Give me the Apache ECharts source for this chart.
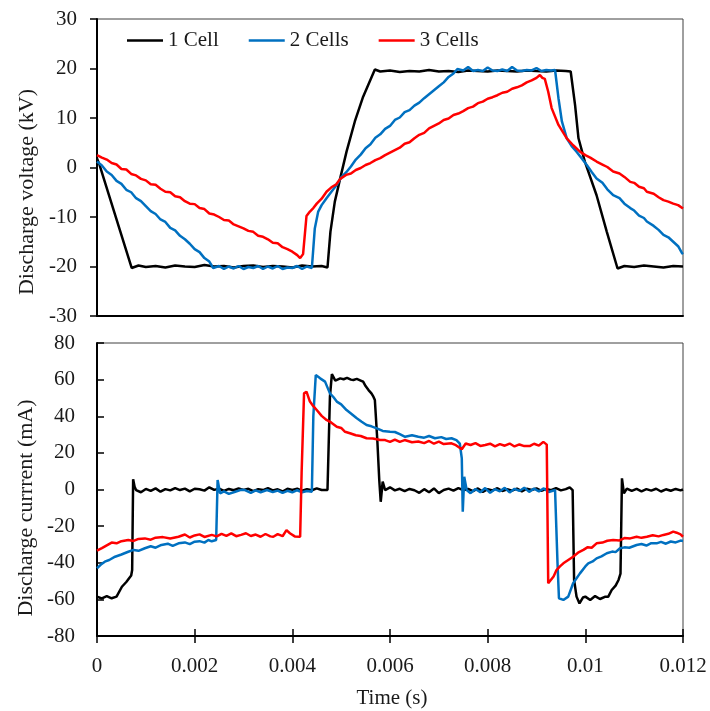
<!DOCTYPE html>
<html>
<head>
<meta charset="utf-8">
<script src="https://cdn.jsdelivr.net/npm/echarts@6/dist/echarts.min.js"></script>
<style>
  html, body { margin: 0; padding: 0; background: #ffffff; }
  #chart { width: 710px; height: 711px; }
</style>
</head>
<body>
<div id="chart"></div>
<script>
// Time values are in milliseconds, converted to seconds when the series are built.
const seriesNames = ['1 Cell', '2 Cells', '3 Cells'];
const timeTicks = [0, 0.002, 0.004, 0.006, 0.008, 0.01, 0.012];
const voltageTicks = [-30, -20, -10, 0, 10, 20, 30];
const currentTicks = [-80, -60, -40, -20, 0, 20, 40, 60, 80];

// Discharge voltage (kV)
const voltage1Cell = [
  [0,1.8],[0.05,0.6],[0.71,-20.3],[0.85,-19.8],[1.0,-20.1],[1.2,-19.9],[1.4,-20.2],[1.6,-19.8],[1.8,-20.0],
  [2.0,-20.1],[2.2,-19.7],[2.4,-20.0],[2.6,-19.9],[2.8,-20.2],[3.0,-19.9],[3.2,-19.8],[3.4,-20.1],[3.6,-19.9],
  [3.8,-20.0],[4.0,-20.2],[4.2,-19.8],[4.4,-20.0],[4.6,-19.9],[4.72,-20.2],[4.78,-13.0],[4.87,-6.9],[4.98,-2.2],
  [5.11,3.2],[5.28,9.3],[5.45,14.3],[5.69,19.8],[5.8,19.4],[6.0,19.6],[6.2,19.3],[6.4,19.5],[6.6,19.4],[6.8,19.7],
  [7.0,19.4],[7.2,19.5],[7.4,19.3],[7.6,19.6],[7.8,19.5],[8.0,19.4],[8.2,19.6],[8.4,19.5],[8.6,19.4],[8.8,19.6],
  [9.0,19.5],[9.2,19.4],[9.4,19.6],[9.6,19.5],[9.70,19.4],[9.79,12.6],[9.86,5.9],[9.99,1.2],[10.23,-5.6],
  [10.44,-13.0],[10.66,-20.4],[10.8,-19.9],[11.0,-20.1],[11.2,-19.8],[11.4,-20.0],[11.6,-20.2],[11.8,-19.9],[12.0,-20.0]
];
const voltage2Cells = [
  [0,1.2],[0.1,0.4],[0.2,-0.8],[0.3,-1.5],[0.4,-2.7],[0.5,-3.3],[0.6,-4.5],[0.7,-5.0],[0.8,-6.2],[0.9,-6.8],
  [1.0,-7.8],[1.1,-8.8],[1.2,-9.4],[1.3,-10.5],[1.4,-11.0],[1.5,-12.2],[1.6,-12.7],[1.7,-13.8],[1.8,-14.5],
  [1.9,-15.4],[2.0,-16.5],[2.1,-17.1],[2.2,-18.3],[2.3,-19.0],[2.38,-20.3],[2.5,-19.9],[2.6,-20.5],[2.7,-20.0],
  [2.8,-20.4],[2.9,-19.9],[3.0,-20.5],[3.1,-20.1],[3.2,-20.3],[3.3,-19.9],[3.4,-20.5],[3.5,-20.0],[3.6,-20.4],
  [3.7,-19.9],[3.8,-20.5],[3.9,-20.2],[4.0,-20.3],[4.1,-19.9],[4.2,-20.5],[4.3,-20.0],[4.40,-20.3],[4.46,-12.3],
  [4.53,-8.9],[4.6,-7.6],[4.70,-6.2],[4.8,-4.9],[4.91,-3.5],[5.0,-2.0],[5.1,-1.0],[5.2,0.2],[5.3,1.6],[5.4,2.6],
  [5.5,3.9],[5.6,4.7],[5.7,6.0],[5.8,6.7],[5.9,7.8],[6.0,8.4],[6.1,9.6],[6.2,10.1],[6.3,11.2],[6.4,11.6],[6.5,12.5],
  [6.6,13.1],[6.7,14.0],[6.8,14.8],[6.9,15.6],[7.0,16.4],[7.1,17.2],[7.2,18.3],[7.3,19.0],[7.38,19.9],[7.5,19.6],
  [7.6,20.3],[7.7,19.5],[7.8,19.7],[7.9,19.5],[8.0,20.2],[8.1,19.6],[8.2,19.5],[8.3,19.8],[8.4,19.5],[8.5,20.3],
  [8.6,19.6],[8.7,19.5],[8.8,19.7],[8.9,19.6],[9.0,20.1],[9.1,19.5],[9.2,19.7],[9.3,19.6],[9.38,19.7],[9.45,14.0],
  [9.52,9.3],[9.62,5.9],[9.72,4.3],[9.82,3.2],[9.92,1.9],[10.03,0.5],[10.13,-0.9],[10.23,-2.2],[10.35,-3.1],
  [10.45,-4.4],[10.57,-5.6],[10.7,-6.2],[10.8,-7.3],[10.92,-8.2],[11.0,-8.7],[11.1,-9.7],[11.2,-10.2],[11.26,-10.9],
  [11.4,-11.8],[11.5,-12.6],[11.6,-13.6],[11.7,-14.1],[11.8,-15.0],[11.9,-15.9],[11.98,-17.3],[12.0,-17.5]
];
const voltage3Cells = [
  [0,2.5],[0.1,2.0],[0.2,1.6],[0.3,0.9],[0.4,0.6],[0.5,-0.3],[0.6,-0.4],[0.7,-1.3],[0.8,-1.6],[0.9,-2.3],
  [1.0,-2.6],[1.1,-3.4],[1.2,-3.5],[1.3,-4.3],[1.4,-4.9],[1.5,-5.0],[1.6,-5.8],[1.7,-6.0],[1.8,-6.8],[1.9,-7.3],
  [2.0,-7.4],[2.1,-8.2],[2.2,-8.4],[2.3,-9.3],[2.4,-9.5],[2.5,-10.0],[2.6,-10.6],[2.7,-10.7],[2.8,-11.5],
  [2.9,-11.9],[3.0,-12.3],[3.1,-12.8],[3.2,-13.0],[3.3,-13.8],[3.4,-14.0],[3.5,-14.5],[3.6,-15.2],[3.7,-15.3],
  [3.8,-16.1],[3.9,-16.5],[4.0,-17.0],[4.1,-17.7],[4.16,-18.3],[4.19,-18.5],[4.22,-17.5],[4.29,-9.8],[4.36,-8.9],
  [4.43,-8.2],[4.50,-7.3],[4.6,-6.3],[4.70,-4.9],[4.8,-4.0],[4.9,-3.4],[4.98,-2.3],[5.1,-1.5],[5.2,-1.2],[5.3,-0.5],
  [5.4,-0.1],[5.5,0.5],[5.6,0.9],[5.7,1.5],[5.8,1.9],[5.9,2.5],[6.0,3.0],[6.1,3.5],[6.2,4.0],[6.3,4.8],[6.4,5.1],
  [6.5,5.9],[6.6,6.6],[6.7,7.0],[6.8,7.9],[6.9,8.4],[7.0,8.9],[7.1,9.6],[7.2,9.9],[7.3,10.6],[7.4,10.9],[7.5,11.4],
  [7.6,12.0],[7.7,12.3],[7.8,13.0],[7.9,13.3],[8.0,13.9],[8.1,14.2],[8.2,14.6],[8.3,15.1],[8.4,15.3],[8.5,15.9],
  [8.6,16.2],[8.7,16.6],[8.8,17.2],[8.9,17.6],[9.0,18.1],[9.07,18.7],[9.12,18.1],[9.17,17.9],[9.24,15.3],
  [9.31,12.0],[9.45,8.6],[9.62,5.9],[9.75,4.5],[9.89,3.2],[10.0,2.5],[10.1,2.0],[10.23,1.2],[10.35,0.6],
  [10.45,0.1],[10.57,-0.8],[10.7,-1.2],[10.8,-1.9],[10.92,-2.9],[11.0,-3.1],[11.1,-3.9],[11.2,-4.2],[11.26,-4.9],
  [11.4,-5.3],[11.5,-6.0],[11.6,-6.6],[11.7,-6.9],[11.8,-7.3],[11.9,-7.6],[12.0,-8.3]
];

// Discharge current (mA)
const current1Cell = [
  [0,-58.5],[0.1,-59.5],[0.2,-58.2],[0.3,-59.4],[0.4,-58.5],[0.51,-53.1],[0.6,-50.5],[0.7,-47.0],[0.72,-44.0],
  [0.74,5.6],[0.77,1.5],[0.8,-0.3],[0.9,-1.5],[1.0,0.3],[1.1,-0.8],[1.2,0.6],[1.3,-1.2],[1.4,0.2],[1.5,-0.5],
  [1.6,0.8],[1.7,-0.3],[1.8,0.5],[1.9,-1.0],[2.0,0.4],[2.1,0.1],[2.2,-0.6],[2.3,1.2],[2.4,-0.2],[2.5,0.5],
  [2.6,-0.8],[2.7,0.3],[2.8,-0.4],[2.9,0.6],[3.0,-0.2],[3.1,0.4],[3.2,-0.9],[3.3,0.2],[3.4,-0.3],[3.5,0.7],
  [3.6,-0.5],[3.7,0.1],[3.8,-1.1],[3.9,0.4],[4.0,-0.2],[4.1,0.5],[4.2,-0.7],[4.3,0.2],[4.4,-0.4],[4.5,0.6],
  [4.6,-0.3],[4.72,-0.3],[4.77,50.7],[4.81,63.0],[4.84,62.5],[4.88,59.5],[4.91,58.9],[4.98,60.7],[5.05,60.2],
  [5.12,61.0],[5.2,60.0],[5.25,59.8],[5.32,60.4],[5.4,59.5],[5.45,58.9],[5.5,56.5],[5.56,54.3],[5.62,52.5],
  [5.66,50.7],[5.69,48.9],[5.74,27.0],[5.78,5.2],[5.81,-6.7],[5.85,4.3],[5.9,-0.3],[6.0,1.2],[6.1,-0.5],
  [6.2,0.4],[6.3,-0.9],[6.4,0.3],[6.5,-0.4],[6.6,-1.8],[6.7,0.2],[6.8,-1.5],[6.9,0.6],[7.0,-2.0],[7.1,-0.3],
  [7.2,0.5],[7.3,-0.6],[7.4,0.8],[7.5,-0.4],[7.6,0.3],[7.7,-0.9],[7.8,0.6],[7.9,-1.3],[8.0,0.2],[8.1,-0.5],
  [8.2,0.7],[8.3,-0.8],[8.4,0.1],[8.5,-0.6],[8.6,0.5],[8.7,-1.0],[8.8,0.4],[8.9,-0.3],[9.0,0.6],[9.1,-0.7],
  [9.2,0.3],[9.3,-0.4],[9.4,0.8],[9.5,-0.5],[9.6,0.2],[9.68,1.2],[9.74,-0.3],[9.77,-49.4],[9.82,-58.5],
  [9.88,-62.2],[9.95,-59.0],[10.0,-58.5],[10.1,-60.3],[10.2,-58.2],[10.3,-59.8],[10.4,-58.6],[10.47,-58.5],
  [10.54,-54.9],[10.62,-52.5],[10.68,-49.4],[10.72,-46.0],[10.75,6.1],[10.79,-2.1],[10.85,0.5],[10.95,-0.8],
  [11.05,0.3],[11.15,-1.0],[11.25,0.2],[11.35,-0.6],[11.45,0.4],[11.55,-1.1],[11.65,0.1],[11.75,-0.7],
  [11.85,0.3],[11.95,-0.5],[12.0,0.0]
];
const current2Cells = [
  [0,-43.0],[0.08,-41.0],[0.16,-39.4],[0.25,-38.5],[0.37,-36.7],[0.5,-35.5],[0.64,-34.0],[0.75,-33.0],
  [0.85,-33.5],[0.98,-32.1],[1.1,-31.0],[1.2,-31.8],[1.32,-30.3],[1.45,-29.6],[1.55,-30.8],[1.67,-29.4],
  [1.8,-28.9],[1.9,-29.8],[2.0,-28.5],[2.1,-28.2],[2.2,-29.0],[2.28,-27.6],[2.35,-28.3],[2.44,-27.6],
  [2.47,5.2],[2.52,-2.1],[2.6,-1.0],[2.7,-2.4],[2.83,-1.2],[2.95,-0.2],[3.03,-0.3],[3.15,-1.8],[3.25,-0.5],
  [3.35,-1.5],[3.48,-0.3],[3.6,-1.4],[3.7,-0.6],[3.8,-1.9],[3.9,-0.7],[4.0,-1.6],[4.1,-0.4],[4.2,-1.5],
  [4.3,-0.8],[4.40,-1.2],[4.43,40.0],[4.48,62.5],[4.57,60.7],[4.67,58.9],[4.77,52.5],[4.84,50.5],[4.91,48.0],
  [5.0,46.5],[5.11,43.4],[5.2,41.5],[5.32,38.9],[5.42,37.0],[5.52,35.2],[5.62,34.5],[5.73,33.4],[5.85,32.0],
  [6.0,31.6],[6.1,31.4],[6.2,30.2],[6.31,28.8],[6.45,29.6],[6.58,28.8],[6.7,28.3],[6.8,29.2],[6.92,28.0],
  [7.05,28.6],[7.15,27.6],[7.26,28.0],[7.36,27.0],[7.43,25.0],[7.47,17.0],[7.49,-12.1],[7.52,7.0],[7.57,-0.3],
  [7.65,-2.0],[7.75,0.3],[7.85,-1.5],[7.95,0.8],[8.05,-1.8],[8.15,0.2],[8.25,-1.0],[8.35,0.9],[8.45,-1.6],
  [8.55,0.4],[8.65,-0.8],[8.75,1.0],[8.85,-1.3],[8.95,0.5],[9.05,-1.0],[9.15,0.6],[9.25,-1.4],[9.38,-0.3],
  [9.43,-40.0],[9.46,-59.4],[9.55,-60.3],[9.65,-58.5],[9.75,-51.2],[9.89,-45.8],[10.0,-42.0],[10.06,-40.3],
  [10.15,-39.3],[10.23,-37.6],[10.33,-36.5],[10.44,-34.8],[10.55,-33.9],[10.62,-34.2],[10.71,-32.1],
  [10.8,-31.6],[10.9,-31.8],[11.05,-30.3],[11.15,-29.8],[11.25,-30.6],[11.35,-29.3],[11.46,-29.4],
  [11.55,-28.6],[11.65,-29.6],[11.75,-28.4],[11.85,-28.9],[11.95,-27.9],[12.0,-28.1]
];
const current3Cells = [
  [0,-33.4],[0.1,-32.0],[0.2,-30.5],[0.3,-29.0],[0.4,-29.4],[0.5,-28.2],[0.64,-27.6],[0.75,-28.1],[0.85,-27.0],
  [0.98,-26.7],[1.1,-27.4],[1.2,-26.3],[1.35,-26.0],[1.5,-26.8],[1.67,-25.8],[1.8,-24.6],[1.9,-26.2],[2.0,-25.1],
  [2.1,-24.5],[2.2,-25.9],[2.35,-24.8],[2.45,-25.6],[2.55,-24.2],[2.65,-25.3],[2.75,-24.0],[2.85,-25.5],
  [2.95,-24.8],[3.05,-23.9],[3.15,-25.4],[3.25,-24.6],[3.35,-25.8],[3.45,-24.3],[3.55,-25.6],[3.61,-25.8],
  [3.7,-24.4],[3.8,-25.5],[3.88,-22.2],[3.95,-23.9],[4.05,-25.6],[4.16,-25.8],[4.19,9.0],[4.24,52.5],[4.29,53.4],
  [4.36,48.0],[4.43,45.5],[4.50,43.4],[4.6,40.2],[4.70,38.0],[4.8,36.5],[4.91,34.3],[5.0,33.6],[5.08,31.5],
  [5.18,30.7],[5.3,29.6],[5.4,29.2],[5.52,28.0],[5.65,27.8],[5.8,27.0],[5.9,27.0],[6.0,26.0],[6.1,27.3],
  [6.2,26.0],[6.3,27.0],[6.45,25.8],[6.58,26.2],[6.7,25.3],[6.8,26.5],[6.9,25.0],[7.0,26.1],[7.1,24.8],
  [7.26,25.2],[7.35,24.2],[7.47,22.0],[7.55,25.1],[7.65,24.3],[7.75,25.3],[7.85,23.8],[7.95,24.3],[8.05,25.0],
  [8.15,23.6],[8.25,24.8],[8.35,23.9],[8.45,25.1],[8.55,23.5],[8.65,24.6],[8.75,23.7],[8.87,23.8],[8.95,25.0],
  [9.05,24.0],[9.14,26.0],[9.21,24.5],[9.24,-51.2],[9.28,-52.0],[9.35,-47.5],[9.41,-44.0],[9.48,-42.0],
  [9.55,-40.3],[9.65,-38.5],[9.75,-36.7],[9.85,-34.5],[9.96,-33.0],[10.05,-31.5],[10.13,-31.8],[10.23,-29.4],
  [10.35,-29.0],[10.45,-28.0],[10.57,-27.6],[10.7,-27.8],[10.8,-26.5],[10.92,-26.7],[11.05,-25.8],[11.15,-26.4],
  [11.26,-25.8],[11.38,-25.0],[11.5,-25.6],[11.6,-24.8],[11.7,-24.2],[11.8,-23.0],[11.87,-23.6],[11.95,-24.5],
  [12.0,-25.8]
];

const colors = ['#000000', '#0070C0', '#FF0000'];
const fontFamily = '"Liberation Serif", "Times New Roman", serif';
const textColor = '#1a1a1a';

const toSeconds = pts => pts.map(p => [p[0] / 1000, p[1]]);

const chart = echarts.init(document.getElementById('chart'), null, { renderer: 'canvas' });

function lineSeries(name, data, idx, axisIdx) {
  return {
    name: name,
    type: 'line',
    xAxisIndex: axisIdx,
    yAxisIndex: axisIdx,
    data: toSeconds(data),
    showSymbol: false,
    symbol: 'none',
    smooth: false,
    lineStyle: { color: colors[idx], width: 2.5 },
    itemStyle: { color: colors[idx] },
    z: 2 + idx
  };
}

const axisFont = { fontFamily: fontFamily, fontSize: 21, color: textColor };
const tMin = timeTicks[0], tMax = timeTicks[timeTicks.length - 1], tStep = timeTicks[1] - timeTicks[0];

const option = {
  animation: false,
  backgroundColor: '#ffffff',
  textStyle: { fontFamily: fontFamily },
  legend: {
    data: seriesNames,
    left: 127,
    top: 30,
    padding: 0,
    itemWidth: 36,
    itemHeight: 2.5,
    itemGap: 30,
    icon: 'rect',
    textStyle: { fontFamily: fontFamily, fontSize: 21, color: textColor }
  },
  grid: [
    { left: 97, top: 19, width: 586, height: 297, show: true, borderColor: '#404040', borderWidth: 1, containLabel: false },
    { left: 97, top: 343, width: 586, height: 293, show: true, borderColor: '#404040', borderWidth: 1, containLabel: false }
  ],
  xAxis: [
    {
      type: 'value', gridIndex: 0, min: tMin, max: tMax, interval: tStep,
      axisLine: { show: true, onZero: false, lineStyle: { color: '#000', width: 2 } },
      axisTick: { show: false }, axisLabel: { show: false }, splitLine: { show: false }
    },
    {
      type: 'value', gridIndex: 1, min: tMin, max: tMax, interval: tStep, position: 'bottom',
      axisLine: { show: true, onZero: false, lineStyle: { color: '#000', width: 2 } },
      axisTick: { show: true, inside: false, length: 7, lineStyle: { color: '#000', width: 1.5 } },
      axisLabel: Object.assign({ margin: 20 }, axisFont),
      splitLine: { show: false }
    },
    {
      type: 'value', gridIndex: 1, min: tMin, max: tMax, interval: tStep, position: 'bottom',
      axisLine: { show: false, onZero: false },
      axisTick: { show: true, inside: true, length: 7, lineStyle: { color: '#000', width: 1.5 } },
      axisLabel: { show: false }, splitLine: { show: false }
    }
  ],
  yAxis: [
    {
      type: 'value', gridIndex: 0, min: voltageTicks[0], max: voltageTicks[voltageTicks.length - 1],
      interval: voltageTicks[1] - voltageTicks[0],
      axisLine: { show: true, onZero: false, lineStyle: { color: '#000', width: 2 } },
      axisTick: { show: true, inside: false, length: 7, lineStyle: { color: '#000', width: 1.5 } },
      axisLabel: Object.assign({ margin: 20 }, axisFont),
      splitLine: { show: false }
    },
    {
      type: 'value', gridIndex: 1, min: currentTicks[0], max: currentTicks[currentTicks.length - 1],
      interval: currentTicks[1] - currentTicks[0],
      axisLine: { show: true, onZero: false, lineStyle: { color: '#000', width: 2 } },
      axisTick: { show: true, inside: true, length: 7, lineStyle: { color: '#000', width: 1.5 } },
      axisLabel: Object.assign({ margin: 22 }, axisFont),
      splitLine: { show: false }
    }
  ],
  graphic: [
    {
      type: 'text', x: 27, y: 192, rotation: Math.PI / 2,
      style: { text: 'Discharge voltage (kV)', font: '22px ' + fontFamily, fill: textColor,
               align: 'center', verticalAlign: 'middle', textAlign: 'center', textVerticalAlign: 'middle' }
    },
    {
      type: 'text', x: 26, y: 508, rotation: Math.PI / 2,
      style: { text: 'Discharge currrent (mA)', font: '22px ' + fontFamily, fill: textColor,
               align: 'center', verticalAlign: 'middle', textAlign: 'center', textVerticalAlign: 'middle' }
    },
    {
      type: 'text', x: 392, y: 698,
      style: { text: 'Time (s)', font: '21px ' + fontFamily, fill: textColor,
               align: 'center', verticalAlign: 'middle', textAlign: 'center', textVerticalAlign: 'middle' }
    }
  ],
  series: [
    lineSeries(seriesNames[0], voltage1Cell, 0, 0),
    lineSeries(seriesNames[1], voltage2Cells, 1, 0),
    lineSeries(seriesNames[2], voltage3Cells, 2, 0),
    lineSeries(seriesNames[0], current1Cell, 0, 1),
    lineSeries(seriesNames[1], current2Cells, 1, 1),
    lineSeries(seriesNames[2], current3Cells, 2, 1)
  ]
};

// the current series sit on x axis 1 (labelled) in the second grid
option.series.slice(3).forEach(s => { s.xAxisIndex = 1; s.yAxisIndex = 1; });

chart.setOption(option);
</script>
</body>
</html>
